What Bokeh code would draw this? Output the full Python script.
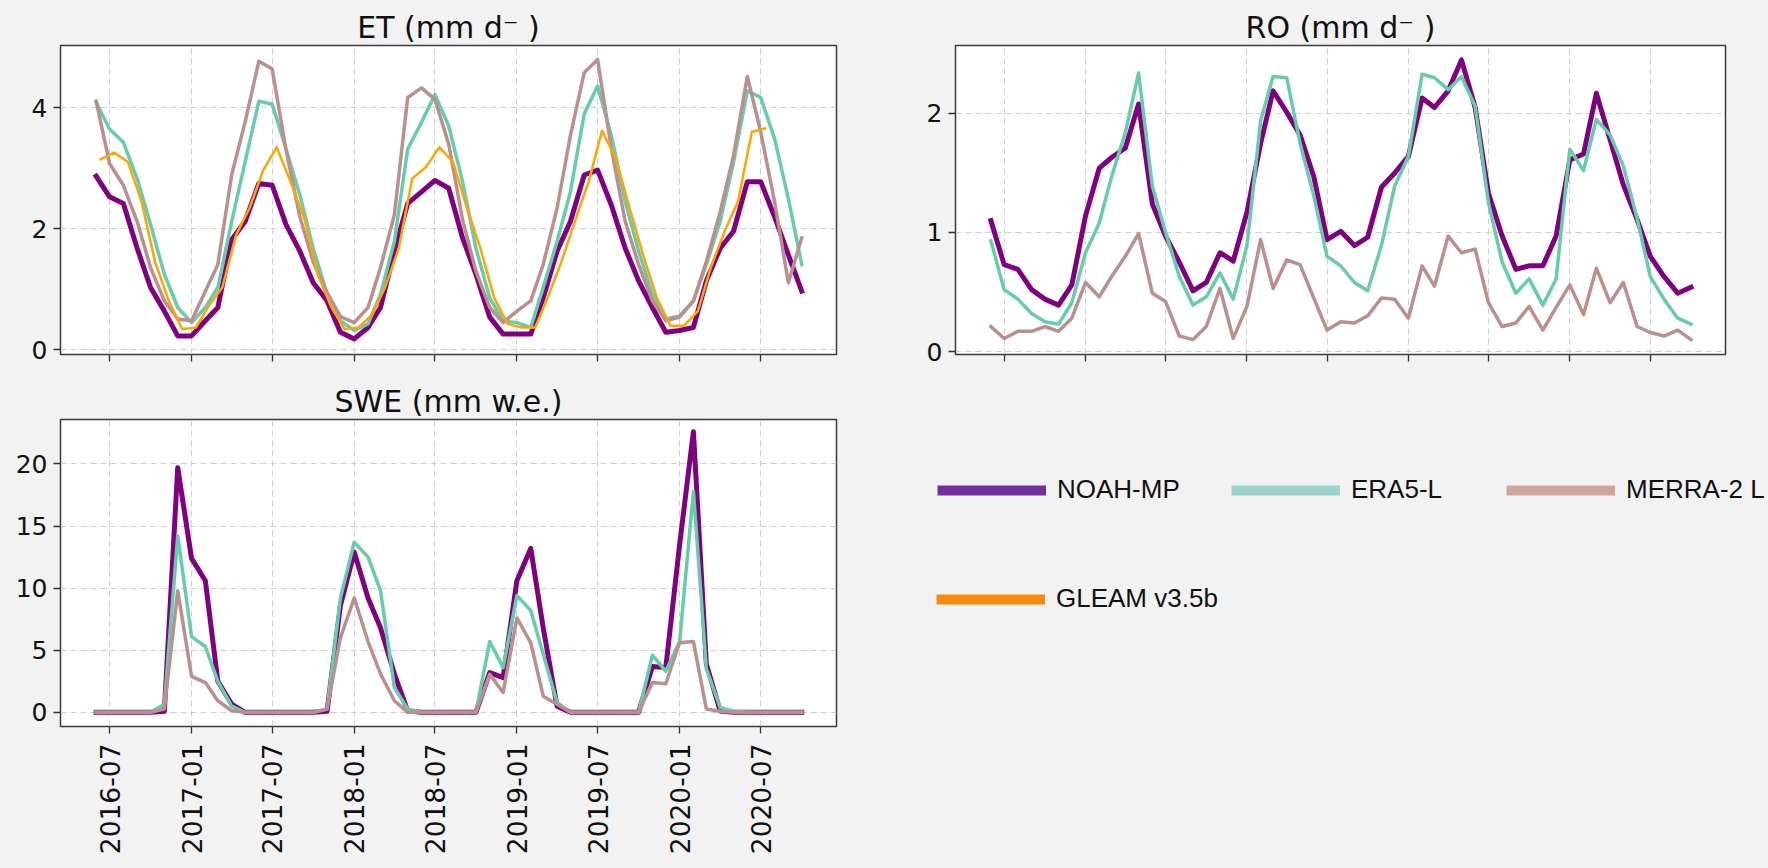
import math
from datetime import datetime
import pandas as pd
from bokeh.plotting import figure
from bokeh.layouts import column, row
from bokeh.models import (Range1d, MonthsTicker, DatetimeTickFormatter, FixedTicker,
                          Legend, LegendItem, CustomJSTickFormatter, GlobalInlineStyleSheet)
from bokeh.embed import file_html
from bokeh.resources import INLINE

# ---------------- data ----------------
months = pd.date_range("2016-06-01", periods=53, freq="MS")
gleam_months = pd.date_range("2016-06-01", periods=50, freq="MS") + pd.Timedelta(days=10)

series_names = ["NOAH-MP", "ERA5-L", "MERRA-2 L", "GLEAM v3.5b"]

et_noah = [2.87, 2.53, 2.42, 1.68, 1.03, 0.64, 0.23, 0.23, 0.48, 0.70,
           1.82, 2.12, 2.75, 2.72, 2.07, 1.63, 1.11, 0.81, 0.29, 0.18,
           0.37, 0.70, 1.63, 2.42, 2.61, 2.80, 2.67, 1.85, 1.25, 0.54,
           0.26, 0.26, 0.26, 0.86, 1.63, 2.12, 2.89, 2.97, 2.39, 1.68,
           1.14, 0.70, 0.29, 0.32, 0.37, 1.14, 1.68, 1.96, 2.78, 2.78,
           2.20, 1.57, 0.97]
et_era5 = [4.09, 3.65, 3.43, 2.83, 2.07, 1.25, 0.70, 0.45, 0.70, 1.03,
           2.12, 3.10, 4.11, 4.06, 3.32, 2.56, 1.68, 0.92, 0.48, 0.32,
           0.43, 0.92, 1.79, 3.32, 3.76, 4.22, 3.70, 2.78, 1.68, 0.86,
           0.48, 0.45, 0.37, 1.03, 1.79, 2.61, 3.90, 4.36, 3.54, 2.45,
           1.63, 0.92, 0.51, 0.56, 0.81, 1.41, 2.12, 3.10, 4.28, 4.17,
           3.49, 2.50, 1.41]
et_merra = [4.11, 3.08, 2.72, 2.12, 1.36, 0.81, 0.51, 0.48, 0.97, 1.41,
            2.89, 3.76, 4.77, 4.64, 3.30, 2.20, 1.45, 0.95, 0.55, 0.45,
            0.70, 1.36, 2.23, 4.17, 4.33, 4.14, 3.40, 2.15, 1.30, 0.70,
            0.45, 0.64, 0.81, 1.41, 2.34, 3.54, 4.58, 4.80, 3.32, 2.12,
            1.41, 0.81, 0.48, 0.54, 0.81, 1.46, 2.28, 3.21, 4.52, 3.60,
            2.45, 1.11, 1.85]
et_gleam = [3.15, 3.26, 3.11, 2.45, 1.46, 0.81, 0.34, 0.37, 0.75, 1.03,
            1.90, 2.34, 2.97, 3.35, 2.78, 2.17, 1.25, 0.70, 0.34, 0.37,
            0.59, 1.03, 1.68, 2.83, 3.02, 3.35, 3.10, 2.34, 1.68, 0.86,
            0.43, 0.37, 0.37, 0.86, 1.46, 2.12, 2.78, 3.62, 3.16, 2.34,
            1.57, 0.86, 0.40, 0.40, 0.64, 1.36, 1.96, 2.45, 3.60, 3.66]

ro_noah = [1.10, 0.73, 0.69, 0.52, 0.44, 0.39, 0.56, 1.14, 1.54, 1.63,
           1.71, 2.08, 1.24, 0.97, 0.75, 0.51, 0.58, 0.83, 0.76, 1.17,
           1.75, 2.19, 2.01, 1.82, 1.47, 0.94, 1.01, 0.89, 0.96, 1.38,
           1.50, 1.64, 2.13, 2.05, 2.19, 2.45, 2.05, 1.33, 0.97, 0.69,
           0.72, 0.72, 0.97, 1.61, 1.66, 2.17, 1.78, 1.40, 1.11, 0.80,
           0.63, 0.49, 0.54]
ro_era5 = [0.93, 0.52, 0.44, 0.32, 0.25, 0.23, 0.41, 0.83, 1.08, 1.47,
           1.84, 2.34, 1.39, 1.00, 0.63, 0.39, 0.46, 0.66, 0.44, 0.89,
           1.94, 2.31, 2.30, 1.75, 1.31, 0.80, 0.72, 0.58, 0.51, 0.89,
           1.39, 1.64, 2.33, 2.30, 2.20, 2.31, 2.06, 1.25, 0.75, 0.49,
           0.61, 0.39, 0.61, 1.70, 1.52, 1.95, 1.82, 1.56, 1.12, 0.63,
           0.44, 0.28, 0.23]
ro_merra = [0.21, 0.11, 0.17, 0.17, 0.21, 0.17, 0.28, 0.58, 0.46, 0.63,
            0.80, 0.99, 0.49, 0.42, 0.13, 0.10, 0.21, 0.53, 0.11, 0.38,
            0.94, 0.53, 0.77, 0.73, 0.45, 0.18, 0.25, 0.24, 0.30, 0.45,
            0.44, 0.28, 0.72, 0.55, 0.97, 0.83, 0.86, 0.41, 0.21, 0.24,
            0.38, 0.18, 0.37, 0.56, 0.31, 0.70, 0.41, 0.58, 0.21, 0.16,
            0.13, 0.18, 0.10]

swe_noah = [0, 0, 0, 0, 0, 0.08, 19.7, 12.4, 10.6, 2.5,
            0.66, 0, 0, 0, 0, 0, 0, 0.08, 8.6, 12.9,
            9.2, 6.8, 3.1, 0.1, 0, 0, 0, 0, 0, 3.2,
            2.8, 10.6, 13.2, 6.8, 0.5, 0, 0, 0, 0, 0,
            0, 3.7, 3.6, 13.5, 22.6, 3.9, 0.1, 0, 0, 0,
            0, 0, 0]
swe_era5 = [0, 0, 0, 0, 0, 0.66, 14.2, 6.1, 5.3, 2.5,
            0.5, 0, 0, 0, 0, 0, 0, 0.27, 9.2, 13.7,
            12.5, 9.8, 2.0, 0.27, 0, 0, 0, 0, 0, 5.7,
            3.6, 9.4, 8.2, 4.7, 0.8, 0, 0, 0, 0, 0,
            0, 4.6, 3.3, 5.7, 17.8, 3.5, 0.4, 0.08, 0, 0,
            0, 0, 0]
swe_merra = [0, 0, 0, 0, 0, 0.27, 9.8, 2.9, 2.4, 0.93,
             0.13, 0, 0, 0, 0, 0, 0, 0.27, 6.0, 9.2,
             5.7, 3.1, 0.93, 0, 0, 0, 0, 0, 0, 3.06,
             1.6, 7.6, 5.6, 1.3, 0.66, 0, 0, 0, 0, 0,
             0, 2.4, 2.3, 5.6, 5.7, 0.27, 0.08, 0, 0, 0,
             0, 0, 0]

et_yticks = [0, 2, 4]
ro_yticks = [0, 1, 2]
swe_yticks = [0, 5, 10, 15, 20]

# ---------------- styles ----------------
C_NOAH, C_ERA5, C_MERRA, C_GLEAM = "#800080", "#66cdaa", "#bc8f8f", "#ffa500"
LEG_COLORS = ["#722f9e", "#9cd4cd", "#cfa69d", "#f68b0f"]
BG = "#f2f2f2"
X0, X1 = datetime(2016, 3, 13), datetime(2020, 12, 18)


def make_fig(title, w, h, bl, bt, br, bb, yr, yticks, labels):
    p = figure(width=w, height=h, x_axis_type="datetime", output_backend="svg",
               toolbar_location=None, x_range=Range1d(X0, X1), y_range=Range1d(*yr),
               min_border_left=bl, min_border_top=bt, min_border_right=br,
               min_border_bottom=bb)
    p.border_fill_color = BG
    p.background_fill_color = "white"
    p.outline_line_color = "#3a3a3a"
    p.outline_line_width = 1.5
    p.title.text = title
    p.title.align = "center"
    p.title.text_font = "DejaVu Sans"
    p.title.text_font_size = "30px"
    p.title.text_font_style = "normal"
    p.title.text_color = "#111111"
    p.title.standoff = 2

    tk = MonthsTicker(months=[0, 6])
    p.xaxis.ticker = tk
    p.xgrid.ticker = tk
    if labels:
        p.xaxis.formatter = DatetimeTickFormatter(months="%Y-%m", years="%Y-%m", days="%Y-%m")
        p.xaxis.major_label_orientation = math.pi / 2
        p.xaxis.major_label_text_font = "DejaVu Sans"
        p.xaxis.major_label_text_font_size = "26.5px"
        p.xaxis.major_label_text_color = "#111111"
        p.xaxis.major_label_standoff = 10
    else:
        p.xaxis.formatter = CustomJSTickFormatter(code="return ''")
        p.xaxis.major_label_standoff = 0
    yt = FixedTicker(ticks=yticks)
    p.yaxis.ticker = yt
    p.ygrid.ticker = yt
    p.yaxis.major_label_text_font = "DejaVu Sans"
    p.yaxis.major_label_text_font_size = "25px"
    p.yaxis.major_label_text_color = "#111111"
    p.yaxis.major_label_standoff = 6
    for ax in (p.xaxis, p.yaxis):
        ax.axis_line_color = None
        ax.major_tick_out = 7
        ax.major_tick_in = 0
        ax.major_tick_line_color = "#333333"
        ax.major_tick_line_width = 1.3
        ax.minor_tick_line_color = None
    for g in (p.xgrid, p.ygrid):
        g.grid_line_color = "#cfcfcf"
        g.grid_line_dash = "6 4"
        g.grid_line_width = 1
    return p


def add_lines(p, ys, gleam=None):
    kw = dict(line_join="round", line_cap="square")
    p.line(months, ys[0], line_color=C_NOAH, line_width=5, **kw)
    p.line(months, ys[1], line_color=C_ERA5, line_width=3.5, **kw)
    p.line(months, ys[2], line_color=C_MERRA, line_width=3.5, **kw)
    if gleam is not None:
        p.line(gleam_months, gleam, line_color=C_GLEAM, line_width=2.5, **kw)


p_et = make_fig("ET (mm d\u207b )", 868, 369, 52, 38, 40, 21, (-0.077, 5.03), et_yticks, False)
add_lines(p_et, [et_noah, et_era5, et_merra], et_gleam)

p_ro = make_fig("RO (mm d\u207b )", 890, 369, 79, 38, 41, 21, (-0.025, 2.571), ro_yticks, False)
add_lines(p_ro, [ro_noah, ro_era5, ro_merra])

p_swe = make_fig("SWE (mm w.e.)", 868, 482, 52, 44, 40, 128, (-1.14, 23.58), swe_yticks, True)
add_lines(p_swe, [swe_noah, swe_era5, swe_merra])

# ---------------- legend panel ----------------
# same top/bottom borders as the SWE panel (rows align plot frames)
p_leg = figure(width=890, height=482, output_backend="svg", toolbar_location=None,
               x_axis_location=None, y_axis_location=None,
               min_border_left=0, min_border_top=44, min_border_bottom=128,
               min_border_right=0, x_range=Range1d(0, 1), y_range=Range1d(0, 1))
p_leg.xgrid.visible = False
p_leg.ygrid.visible = False
p_leg.outline_line_color = None
p_leg.background_fill_color = BG
p_leg.border_fill_color = BG

leg_style = dict(glyph_width=109, glyph_height=30, label_height=30, label_standoff=11,
                 padding=0, margin=0, spacing=0, border_line_color=None,
                 background_fill_alpha=0, label_text_font="Liberation Sans",
                 label_text_font_size="26px", label_text_color="#111111")
# legend box positions: (px from frame left, px from frame bottom)
leg_locs = [(61, 221), (355, 221), (630, 221), (60, 112)]
for name, col, loc in zip(series_names, LEG_COLORS, leg_locs):
    # placeholder renderer (NaN data, draws nothing) carrying the legend colour
    r = p_leg.line(x=[float("nan")], y=[float("nan")], line_color=col, line_width=10)
    lg = Legend(items=[LegendItem(label=name, renderers=[r])], location=loc, **leg_style)
    p_leg.add_layout(lg)

layout = column(row(p_et, p_ro), row(p_swe, p_leg), margin=(6, 0, 0, 8),
                stylesheets=[GlobalInlineStyleSheet(css="body{background:#f2f2f2;}")])

open("out.html", "w").write(file_html(layout, INLINE))
